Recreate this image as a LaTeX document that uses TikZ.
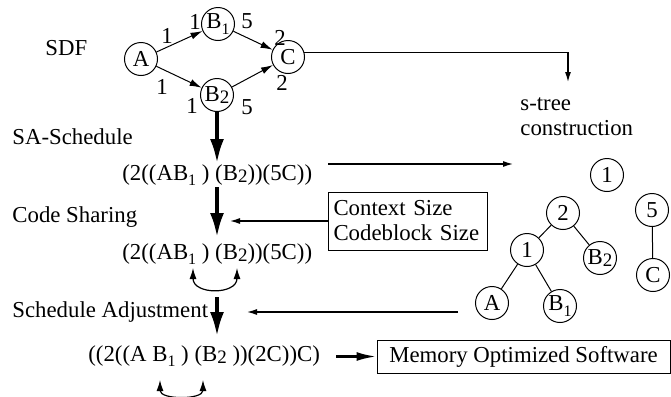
\documentclass[tikz,border=0pt]{standalone}
\usepackage{fontspec}
\setmainfont{Liberation Serif}
\usetikzlibrary{arrows.meta}
% actor names with indices
\newcommand{\Bone}{B\raisebox{-0.55ex}{\fontsize{8}{8}\selectfont 1}}
\newcommand{\Btwo}{B\raisebox{-0.2ex}{\fontsize{9.5}{9.5}\selectfont 2}}
\begin{document}
\begin{tikzpicture}[x=0.5pt,y=-0.5pt,
  every node/.style={font=\fontsize{11.4}{12.5}\selectfont, inner sep=0pt},
  actor/.style={circle, draw, line width=0.5pt, minimum size=16.5pt},
  sdfarrow/.style={line width=0.5pt, -{Latex[length=6pt,width=3.5pt]}},
  thinarrow/.style={line width=0.6pt, -{Latex[length=5pt,width=3pt]}},
  bigarrow/.style={line width=1.7pt, -{Latex[length=12pt,width=7pt]}},
  midarrow/.style={line width=1.3pt, -{Latex[length=10pt,width=4.5pt]}},
  swaparrow/.style={line width=0.6pt, {Latex[length=5.5pt,width=3.5pt]}-{Latex[length=5.5pt,width=3.5pt]}},
  treeedge/.style={line width=0.5pt},
  stage/.style={anchor=west}
]
\useasboundingbox (0,0) rectangle (671,397);

% ---- SDF graph ----
\node[stage] (sdf) at (45,48) {SDF};
\node[actor] (A)  at (141,59) {A};
\node[actor] (B1) at (218,24) {\Bone};
\node[actor] (B2) at (217,95) {\Btwo};
\node[actor] (C)  at (288,57) {C};
\draw[sdfarrow] (A) -- (B1);
\draw[sdfarrow] (A) -- (B2);
\draw[sdfarrow] (B1) -- (C);
\draw[sdfarrow] (B2) -- (C);
\node (r1) at (167,36) {1};
\node (r2) at (195,22) {1};
\node (r3) at (247,21) {5};
\node (r4) at (280,38) {2};
\node (r5) at (162,87) {1};
\node (r6) at (192,106) {1};
\node (r7) at (247,107) {5};
\node (r8) at (282,83) {2};

% ---- s-tree construction ----
\coordinate (bend) at (568,0);
\coordinate (stip) at (568,82);
\draw[thinarrow] (C.15) -- (C.15 -| bend) -- (stip);
\node[anchor=north west, align=left] (stree) at (520,97) {s-tree\\construction};

\node[actor] (t1top) at (607,175) {1};
\node[actor] (t2)  at (563,213) {2};
\node[actor] (t5)  at (652,210) {5};
\node[actor] (t1)  at (527,250) {1};
\node[actor] (tB2) at (600,258) {\Btwo};
\node[actor] (tC)  at (653,275) {C};
\node[actor] (tA)  at (492,303) {A};
\node[actor] (tB1) at (560,306) {\Bone};
\draw[treeedge] (t2) -- (t1);
\draw[treeedge] (t2) -- (tB2);
\draw[treeedge] (t1) -- (tA);
\draw[treeedge] (t1) -- (tB1);
\draw[treeedge] (t5) -- (tC);

% ---- schedule flow ----
\node[stage] (sa) at (12,137) {SA-Schedule};
\node[anchor=west] (s1) at (122,175) {(2((A\Bone\ ) (\Btwo))(5C))};
\draw[bigarrow] (B2.south) -- (217,163);

\coordinate (st1) at (328,164);
\coordinate (st2) at (513,164);
\draw[thinarrow] (st1) -- (st2);

\node[stage] (cs) at (12,217) {Code Sharing};
\draw[bigarrow] (217,187) -- (217,237);
\node[draw, line width=0.5pt, minimum width=79.5pt, minimum height=29pt,
      text width=74pt, align=left] (ctx) at (407.5,221)
      {Context Size\\Codeblock Size};
\coordinate (cstip) at (230,0);
\draw[thinarrow] (ctx.west) -- (ctx.west -| cstip);

\node[anchor=west] (s2) at (122,254) {(2((A\Bone\ ) (\Btwo))(5C))};
\coordinate (sw1a) at (193,268);
\coordinate (sw1b) at (237,268);
\draw[swaparrow] (sw1a) .. controls (193,295) and (237,295) .. (sw1b);

\node[stage] (adj) at (12,312) {Schedule Adjustment};
\draw[bigarrow] (217,297) -- (217,336);
\coordinate (adj1) at (458,312);
\coordinate (adj2) at (247,312);
\draw[thinarrow] (adj1) -- (adj2);

\node[anchor=west] (s3) at (88,356) {((2((A \Bone\ ) (\Btwo\ ))(2C))C)};
\coordinate (sw2a) at (160,380);
\coordinate (sw2b) at (203,380);
\draw[swaparrow] (sw2a) .. controls (160,400) and (203,400) .. (sw2b);

\node[draw, line width=0.5pt, minimum width=146.5pt, minimum height=16.5pt]
      (mem) at (523.5,356.5) {Memory Optimized Software};
\draw[midarrow] ([xshift=8pt]s3.east |- mem.west) -- (mem.west);
\end{tikzpicture}
\end{document}
